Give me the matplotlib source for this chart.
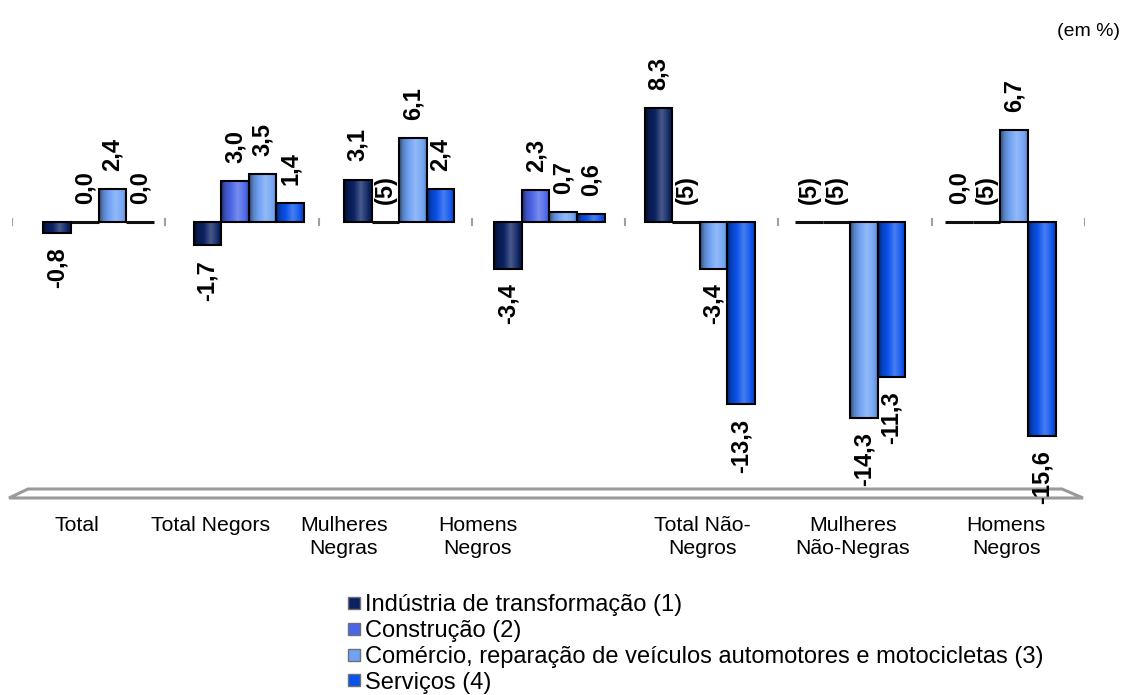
import numpy as np
import matplotlib
matplotlib.use("Agg")
import matplotlib.pyplot as plt
from matplotlib.patches import Polygon, Rectangle
from matplotlib.colors import to_rgb

plt.rcParams['font.family'] = ['Liberation Sans', 'DejaVu Sans']

# ---------------- data ----------------
categories = ["Total", "Total Negors", "Mulheres\nNegras", "Homens\nNegros",
              "Total Não-\nNegros", "Mulheres\nNão-Negras", "Homens\nNegros"]
series_names = ["Indústria de transformação (1)", "Construção (2)",
                "Comércio, reparação de veículos automotores e motocicletas (3)",
                "Serviços (4)"]
# None = "(5)" (not shown)
industria = [-0.8, -1.7, 3.1, -3.4, 8.3, None, 0.0]
construcao = [0.0, 3.0, None, 2.3, None, None, None]
comercio = [2.4, 3.5, 6.1, 0.7, -3.4, -14.3, 6.7]
servicos = [0.0, 1.4, 2.4, 0.6, -13.3, -11.3, -15.6]
series_values = [industria, construcao, comercio, servicos]
colors = ["#0B2262", "#4A66E8", "#6FA2F4", "#0A52EC"]
# horizontal shift of the category labels (as in the reference)
label_shift = [-0.143, -0.252, -0.367, -0.476, 0.015, 0.019, 0.037]

W, H = 1126, 695
fig = plt.figure(figsize=(W / 100, H / 100), dpi=100)
L, R, T, B = 12, 1085, 40, 500
ax = fig.add_axes([L / W, 1 - B / H, (R - L) / W, (B - T) / H])

gc0, gsp = 98.5, 150.33
xl = ((L - gc0) / gsp, (R - gc0) / gsp)
ppu = 13.7
zero_px = 222
yl = (-(B - zero_px) / ppu, (zero_px - T) / ppu)

n = len(categories)
x = np.arange(n)
bw = 0.183


def fmt(v):
    return "(5)" if v is None else f"{v:.1f}".replace(".", ",")


def shade(base, m=64):
    base = np.array(to_rgb(base))
    t = np.linspace(0, 1, m)
    f = np.interp(t, [0, 0.15, 0.6, 0.85, 1.0], [0.45, 0.8, 1.25, 1.05, 0.8])
    cols = np.empty((1, m, 3))
    for i, ff in enumerate(f):
        if ff <= 1:
            c = base * ff
        else:
            c = base + (1 - base) * (ff - 1)
        cols[0, i] = np.clip(c, 0, 1)
    return cols


for s, (vals, col) in enumerate(zip(series_values, colors)):
    xs = x + (s - 1.5) * bw
    hv = [0.0 if v is None else v for v in vals]
    bars = ax.bar(xs, hv, width=bw, color=col, edgecolor="black", linewidth=1.5, zorder=3)
    grad = shade(col)
    for b, v in zip(bars, hv):
        if v != 0:
            x0 = b.get_x()
            im = ax.imshow(grad, extent=(x0, x0 + bw, min(0, v), max(0, v)),
                           aspect="auto", zorder=3.5, interpolation="bilinear")
            im.set_clip_path(b)
            b.set_facecolor("none")
            b.set_zorder(4)
        else:
            b.set_linewidth(2.2)
            b.set_edgecolor("#101010")
    for xi, v, raw in zip(xs, hv, vals):
        if v >= 0:
            ax.annotate(fmt(raw), (xi, v), xytext=(0, 13), textcoords="offset points",
                        rotation=90, ha="center", va="bottom", fontsize=17,
                        fontweight="bold", zorder=6, annotation_clip=False)
        else:
            ax.annotate(fmt(raw), (xi, v), xytext=(0, -10.5), textcoords="offset points",
                        rotation=90, ha="center", va="top", fontsize=17,
                        fontweight="bold", zorder=6, annotation_clip=False)

ax.set_xlim(xl)
ax.set_ylim(yl)
for sp in ax.spines.values():
    sp.set_visible(False)
ax.set_xticks([])
ax.set_yticks([])

# small tick marks on zero line
tick_x = np.linspace(xl[0], xl[1], 8)
for tx in tick_x:
    ax.plot([tx, tx], [-0.25, 0.25], color="#A0A0A0", lw=1.5, zorder=2)


# floor (3D base)
def px2data(px, py):
    return (xl[0] + (px - L) / (R - L) * (xl[1] - xl[0]),
            yl[1] - (py - T) / (B - T) * (yl[1] - yl[0]))


floor = [px2data(28, 489), px2data(1062, 489), px2data(1083, 498), px2data(9, 498)]
ax.add_patch(Polygon(floor, closed=True, facecolor="white", edgecolor="#9A9A9A",
                     lw=2.2, zorder=1, clip_on=False))

# category labels
for i, (c, sh) in enumerate(zip(categories, label_shift)):
    ax.annotate(c, (i + sh, yl[0]), xytext=(0, -11.5), textcoords="offset points",
                ha="center", va="top", fontsize=15.3, linespacing=1.3,
                annotation_clip=False)

fig.text(1120 / W, 1 - 31 / H, "(em %)", ha="right", va="center", fontsize=14)

# legend (manual, tight rows as in the reference)
row_y = [603, 629, 655, 680]
for name, col, ry in zip(series_names, colors, row_y):
    fig.patches.append(Rectangle(((348) / W, 1 - (ry + 6) / H), 12 / W, 12 / H,
                                 transform=fig.transFigure, facecolor=col,
                                 edgecolor="#707070", lw=1))
    fig.text(365 / W, 1 - ry / H, name, ha="left", va="center_baseline",
             fontsize=17)

fig.savefig("out.png", dpi=100)
